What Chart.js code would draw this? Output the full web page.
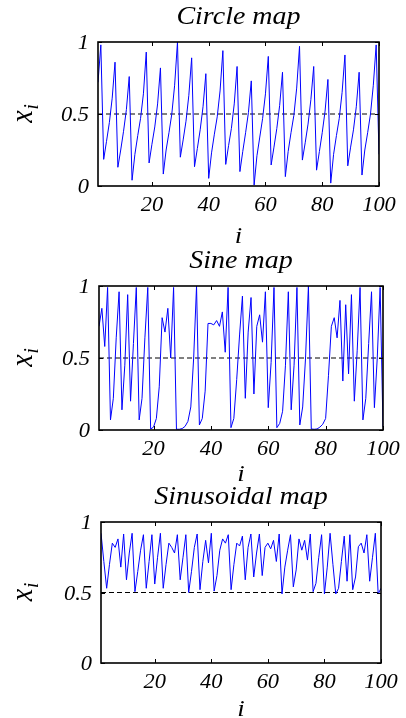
<!DOCTYPE html>
<html>
<head>
<meta charset="utf-8">
<title>Circle, sine and sinusoidal maps</title>
<script src="https://cdn.jsdelivr.net/npm/chart.js@4.4.1/dist/chart.umd.min.js"></script>
<style>
  html, body { margin: 0; padding: 0; background: #fff; }
  #wrap { position: relative; width: 406px; height: 718px; overflow: hidden; }
  #wrap canvas { position: absolute; left: 0; top: 0; }
</style>
</head>
<body>
<div id="wrap"></div>
<script>
/* three chaotic maps, x_i against i = 1..100 */

const X_TICKS = [20, 40, 60, 80, 100];
const Y_TICKS = [0, 0.5, 1];
const I_FIRST = 1;
const I_LAST = 100;
const THRESHOLD = 0.5;

const CIRCLE_MAP = [
  0.72, 0.98, 0.185, 0.31, 0.44, 0.61, 0.86, 0.13, 0.25, 0.38,
  0.53, 0.76, 0.04, 0.22, 0.35, 0.47, 0.64, 0.93, 0.16, 0.29,
  0.41, 0.57, 0.82, 0.083, 0.25, 0.37, 0.50, 0.70, 1.0, 0.2,
  0.32, 0.45, 0.63, 0.89, 0.134, 0.26, 0.39, 0.55, 0.78, 0.053,
  0.23, 0.36, 0.48, 0.66, 0.94, 0.15, 0.28, 0.40, 0.57, 0.83,
  0.10, 0.24, 0.37, 0.51, 0.73, 0.007, 0.21, 0.34, 0.47, 0.64,
  0.90, 0.146, 0.27, 0.40, 0.56, 0.79, 0.065, 0.24, 0.37, 0.49,
  0.68, 0.97, 0.18, 0.30, 0.43, 0.60, 0.83, 0.11, 0.24, 0.37,
  0.52, 0.74, 0.02, 0.22, 0.35, 0.47, 0.65, 0.91, 0.14, 0.27,
  0.39, 0.55, 0.79, 0.076, 0.25, 0.37, 0.50, 0.70, 0.98, 0.22
];

const SINE_MAP = [
  0.72, 0.845, 0.58, 0.99, 0.07, 0.22, 0.64, 0.96, 0.14, 0.45,
  0.94, 0.2, 0.6, 0.99, 0.07, 0.22, 0.64, 0.99, 0.007, 0.02,
  0.08, 0.3, 0.78, 0.68, 0.845, 0.50, 0.99, 0.005, 0.005, 0.01,
  0.025, 0.06, 0.16, 0.5, 1.0, 0.035, 0.08, 0.27, 0.74, 0.74,
  0.73, 0.76, 0.72, 0.82, 0.54, 0.99, 0.016, 0.08, 0.35, 0.66,
  0.93, 0.22, 0.68, 0.92, 0.25, 0.72, 0.80, 0.61, 0.96, 0.155,
  0.47, 0.99, 0.016, 0.046, 0.13, 0.45, 0.96, 0.14, 0.45, 0.99,
  0.035, 0.16, 0.5, 1.0, 0.007, 0.005, 0.007, 0.02, 0.04, 0.08,
  0.38, 0.72, 0.78, 0.64, 0.90, 0.34, 0.87, 0.39, 0.94, 0.2,
  0.55, 0.99, 0.07, 0.22, 0.6, 0.96, 0.155, 0.5, 0.99, 0.02
];

const SINUSOIDAL_MAP = [
  0.92, 0.72, 0.53, 0.70, 0.85, 0.82, 0.88, 0.68, 0.915, 0.59,
  0.78, 0.92, 0.506, 0.65, 0.80, 0.91, 0.53, 0.72, 0.91, 0.56,
  0.75, 0.92, 0.53, 0.70, 0.85, 0.82, 0.78, 0.91, 0.59, 0.75,
  0.91, 0.50, 0.65, 0.82, 0.915, 0.52, 0.72, 0.87, 0.71, 0.92,
  0.51, 0.62, 0.80, 0.88, 0.85, 0.91, 0.52, 0.70, 0.85, 0.83,
  0.90, 0.59, 0.82, 0.915, 0.61, 0.78, 0.915, 0.62, 0.82, 0.85,
  0.81, 0.87, 0.72, 0.915, 0.49, 0.68, 0.80, 0.91, 0.54, 0.66,
  0.88, 0.80, 0.87, 0.73, 0.915, 0.506, 0.565, 0.75, 0.91, 0.49,
  0.68, 0.92, 0.70, 0.49, 0.53, 0.72, 0.90, 0.58, 0.91, 0.52,
  0.61, 0.825, 0.85, 0.78, 0.91, 0.58, 0.75, 0.92, 0.49, 0.53
];

const PAGE_W = 406;
const PAGE_H = 718;

// plot box (px) per panel; every canvas covers the whole page so nothing clips
const PANELS = [
  { title: "Circle map", values: CIRCLE_MAP, box: { left: 98, right: 379, top: 42, bottom: 186 }, iOffset: 57 },
  { title: "Sine map", values: SINE_MAP, box: { left: 99, right: 383, top: 286, bottom: 430 }, iOffset: 51 },
  { title: "Sinusoidal map", values: SINUSOIDAL_MAP, box: { left: 101, right: 381, top: 522, bottom: 663 }, iOffset: 53 },
];

const SERIF = '"Liberation Serif", "Times New Roman", Times, serif';
const SX = 1.12; // the reference text is a bit wide
const X_AXIS_H = 10;

function stretchText(ctx, s, x, y, size, align) {
  ctx.save();
  ctx.font = `italic ${size}px ${SERIF}`;
  ctx.textAlign = align;
  ctx.textBaseline = "alphabetic";
  ctx.translate(x, y);
  ctx.scale(SX, 1);
  ctx.fillText(s, 0, 0);
  ctx.restore();
}

function tickText(v) {
  return String(v);
}

const decor = {
  id: "decor",
  afterDraw(chart, args, opts) {
    const { ctx, chartArea: a } = chart;
    const xs = chart.scales.x, ys = chart.scales.y;
    const cx = (a.left + a.right) / 2;
    const cy = (a.top + a.bottom) / 2;

    ctx.save();
    ctx.strokeStyle = "#000";
    ctx.fillStyle = "#000";

    // inward ticks on all four sides
    ctx.lineWidth = 1;
    ctx.beginPath();
    xs.ticks.forEach((t) => {
      const px = Math.round(xs.getPixelForValue(t.value)) + 0.5;
      ctx.moveTo(px, a.bottom); ctx.lineTo(px, a.bottom - 4);
      ctx.moveTo(px, a.top); ctx.lineTo(px, a.top + 4);
    });
    ys.ticks.forEach((t) => {
      const py = Math.round(ys.getPixelForValue(t.value)) + 0.5;
      ctx.moveTo(a.left, py); ctx.lineTo(a.left + 4, py);
      ctx.moveTo(a.right, py); ctx.lineTo(a.right - 4, py);
    });
    ctx.stroke();

    // box
    ctx.lineWidth = 1.6;
    ctx.strokeRect(a.left, a.top, a.right - a.left, a.bottom - a.top);

    // tick labels
    xs.ticks.forEach((t) => {
      stretchText(ctx, tickText(t.value), xs.getPixelForValue(t.value), a.bottom + 25, 20, "center");
    });
    ys.ticks.forEach((t) => {
      stretchText(ctx, tickText(t.value), a.left - 9, ys.getPixelForValue(t.value) + 7, 20, "right");
    });

    // title + x label
    stretchText(ctx, opts.title, cx, a.top - 18, 25, "center");
    stretchText(ctx, "i", cx, a.bottom + opts.iOffset, 24, "center");

    // y label x_i, rotated
    ctx.translate(32, cy);
    ctx.rotate(-Math.PI / 2);
    ctx.scale(1, SX);
    ctx.font = `italic 28px ${SERIF}`;
    const wx = ctx.measureText("x").width;
    ctx.font = `italic 19px ${SERIF}`;
    const wi = ctx.measureText("i").width;
    const x0 = -(wx + wi) / 2;
    ctx.textAlign = "left";
    ctx.textBaseline = "alphabetic";
    ctx.font = `italic 28px ${SERIF}`;
    ctx.fillText("x", x0, 0);
    ctx.font = `italic 19px ${SERIF}`;
    ctx.fillText("i", x0 + wx + 1, 5);
    ctx.restore();
  },
};

function build() {
  const wrap = document.getElementById("wrap");

  PANELS.forEach((p) => {
    const canvas = document.createElement("canvas");
    canvas.width = PAGE_W;
    canvas.height = PAGE_H;
    canvas.style.width = PAGE_W + "px";
    canvas.style.height = PAGE_H + "px";
    wrap.appendChild(canvas);

    const points = p.values.map((v, k) => ({ x: I_FIRST + k, y: v }));
    const level = [{ x: I_FIRST, y: THRESHOLD }, { x: I_LAST, y: THRESHOLD }];
    const b = p.box;

    new Chart(canvas, {
      type: "line",
      data: {
        datasets: [
          { data: points, borderColor: "#0000ff", borderWidth: 1, pointRadius: 0, tension: 0, fill: false, order: 1 },
          { data: level, borderColor: "#000", borderWidth: 1, borderDash: [5, 3], pointRadius: 0, fill: false, order: 2 },
        ],
      },
      options: {
        responsive: false,
        animation: false,
        events: [],
        layout: {
          padding: { left: 0, right: PAGE_W - b.right, top: b.top, bottom: PAGE_H - b.bottom - X_AXIS_H },
        },
        plugins: {
          legend: { display: false },
          tooltip: { enabled: false },
          decor: { title: p.title, iOffset: p.iOffset },
        },
        scales: {
          x: {
            type: "linear", min: I_FIRST, max: I_LAST,
            afterBuildTicks: (s) => { s.ticks = X_TICKS.map((v) => ({ value: v })); },
            afterFit: (s) => { s.height = X_AXIS_H; },
            grid: { display: false, drawTicks: false },
            border: { display: false },
            ticks: { display: false },
          },
          y: {
            min: 0, max: 1,
            afterBuildTicks: (s) => { s.ticks = Y_TICKS.map((v) => ({ value: v })); },
            afterFit: (s) => { s.width = b.left; },
            grid: { display: false, drawTicks: false },
            border: { display: false },
            ticks: { display: false },
          },
        },
      },
      plugins: [decor],
    });
  });
}

// canvas text needs the serif face ready before drawing
Promise.all([
  document.fonts.load('italic 20px "Liberation Serif"'),
  document.fonts.load('20px "Liberation Serif"'),
]).catch(() => {}).then(build);
</script>
</body>
</html>
